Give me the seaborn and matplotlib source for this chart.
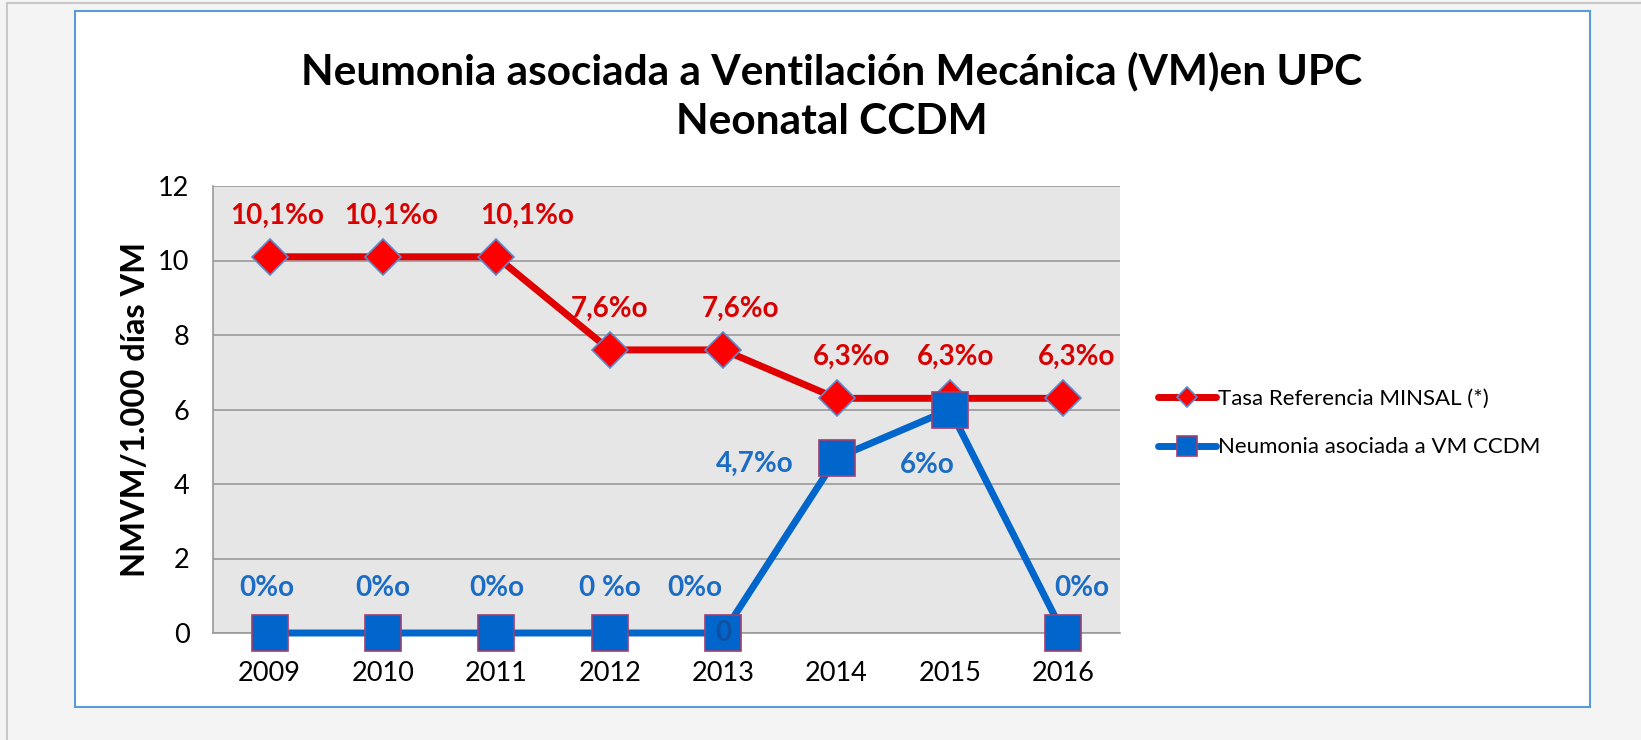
import matplotlib.pyplot as plt
import matplotlib.patches as mpatches
import numpy as np
import pandas as pd
import seaborn as sns

# Data
years = ["2009", "2010", "2011", "2012", "2013", "2014", "2015", "2016"]
tasa_minsal = [10.1, 10.1, 10.1, 7.6, 7.6, 6.3, 6.3, 6.3]
nvm_ccdm = [0, 0, 0, 0, 0, 4.7, 6, 0]
labels_minsal = ["10,1%o", "10,1%o", "10,1%o", "7,6%o", "7,6%o", "6,3%o", "6,3%o", "6,3%o"]
labels_ccdm = ["0%o", "0%o", "0%o", "0 %o", "0%o", "4,7%o", "6%o", "0%o"]

# label placement (offsets in data units: dx in categories, dy in y units)
off_minsal = [(0.07, 1.1), (0.07, 1.1), (0.27, 1.1), (0.0, 1.1), (0.15, 1.1), (0.13, 1.1), (0.05, 1.1), (0.12, 1.1)]
off_ccdm = [(-0.03, 1.2), (0.0, 1.2), (0.0, 1.2), (0.0, 1.2), (-0.25, 1.2), (-0.72, -0.15), (-0.2, -1.5), (0.16, 1.2)]

RED = "#e00000"
RED_TXT = "#d80000"
BLUE = "#0066cc"
BLUE_TXT = "#1a6cc4"

df = pd.DataFrame({"x": np.arange(len(years)), "minsal": tasa_minsal, "ccdm": nvm_ccdm})

sns.set_style("white")
plt.rcParams["font.family"] = ["Lato", "DejaVu Sans"]
plt.rcParams["text.color"] = "black"
plt.rcParams["xtick.color"] = "black"
plt.rcParams["ytick.color"] = "black"
plt.rcParams["axes.labelcolor"] = "black"

fig = plt.figure(figsize=(16.41, 7.4), dpi=100, facecolor="#f4f4f4")

# white chart frame with blue border
frame = mpatches.Rectangle((75 / 1641, 1 - 707 / 740), (1590 - 75) / 1641, (707 - 11) / 740,
                           transform=fig.transFigure, facecolor="white", edgecolor="#5b9bd5",
                           linewidth=1.5, zorder=-10)
fig.patches.append(frame)
fig.add_artist(plt.Line2D([7 / 1641, 7 / 1641], [0, 1 - 3 / 740], transform=fig.transFigure,
                          color="#c8c8c8", linewidth=1.5, zorder=-10))
fig.add_artist(plt.Line2D([7 / 1641, 1], [1 - 3 / 740, 1 - 3 / 740], transform=fig.transFigure,
                          color="#c8c8c8", linewidth=1.5, zorder=-10))

ax = fig.add_axes([213 / 1641, 1 - 633 / 740, (1120 - 213) / 1641, (633 - 186) / 740])
ax.set_facecolor("#e6e6e6")

sns.lineplot(data=df, x="x", y="minsal", ax=ax, color=RED, linewidth=5, marker="D",
             markersize=18, markerfacecolor="#ff0000", markeredgecolor="#5b8bd0",
             markeredgewidth=1.2, label="Tasa Referencia MINSAL (*)", zorder=3, clip_on=False)
sns.lineplot(data=df, x="x", y="ccdm", ax=ax, color=BLUE, linewidth=5, marker="s",
             markersize=26, markerfacecolor=BLUE, markeredgecolor="#a04070",
             markeredgewidth=1.2, label="Neumonia asociada a VM CCDM", zorder=4, clip_on=False)

for i, (v, t) in enumerate(zip(tasa_minsal, labels_minsal)):
    dx, dy = off_minsal[i]
    ax.text(i + dx, v + dy, t, color=RED_TXT, fontsize=20, fontweight="bold",
            ha="center", va="center", zorder=6)
for i, (v, t) in enumerate(zip(nvm_ccdm, labels_ccdm)):
    dx, dy = off_ccdm[i]
    ax.text(i + dx, v + dy, t, color=BLUE_TXT, fontsize=20, fontweight="bold",
            ha="center", va="center", zorder=6)
# stray value label inside the 2013 marker
ax.text(4, nvm_ccdm[4], "0", color="#1050a0", fontsize=20, fontweight="bold",
        ha="center", va="center", zorder=6)

ax.set_xlim(-0.5, len(years) - 0.5)
ax.set_ylim(0, 12)
ax.set_yticks(range(0, 13, 2))
ax.set_xticks(range(len(years)))
ax.set_xticklabels(years)
ax.yaxis.grid(True, color="#9a9a9a", linewidth=1.2)
ax.set_axisbelow(True)
ax.tick_params(axis="both", length=0, labelsize=19.5)
ax.tick_params(axis="x", pad=20)
ax.tick_params(axis="y", pad=17)
for s in ["top", "right"]:
    ax.spines[s].set_visible(False)
for s in ["left", "bottom"]:
    ax.spines[s].set_color("#9a9a9a")
    ax.spines[s].set_linewidth(1.2)
ax.set_xlabel("")
ax.set_ylabel("NMVM/1.000 días VM", fontsize=23.5, fontweight="bold")
ax.yaxis.set_label_coords(-0.07, 0.5)

leg = ax.legend(loc="center left", bbox_to_anchor=(1.02, 0.47), frameon=False,
                fontsize=16, handlelength=2.6, handletextpad=0.1, labelspacing=1.3,
                markerscale=0.55)

fig.text(832 / 1641, 1 - 71 / 740, "Neumonia asociada a Ventilación Mecánica (VM)en UPC",
         ha="center", va="center", fontsize=30.5, fontweight="bold")
fig.text(832 / 1641, 1 - 122 / 740, "Neonatal CCDM",
         ha="center", va="center", fontsize=30.5, fontweight="bold")

fig.savefig("out.png", dpi=100, facecolor=fig.get_facecolor())
